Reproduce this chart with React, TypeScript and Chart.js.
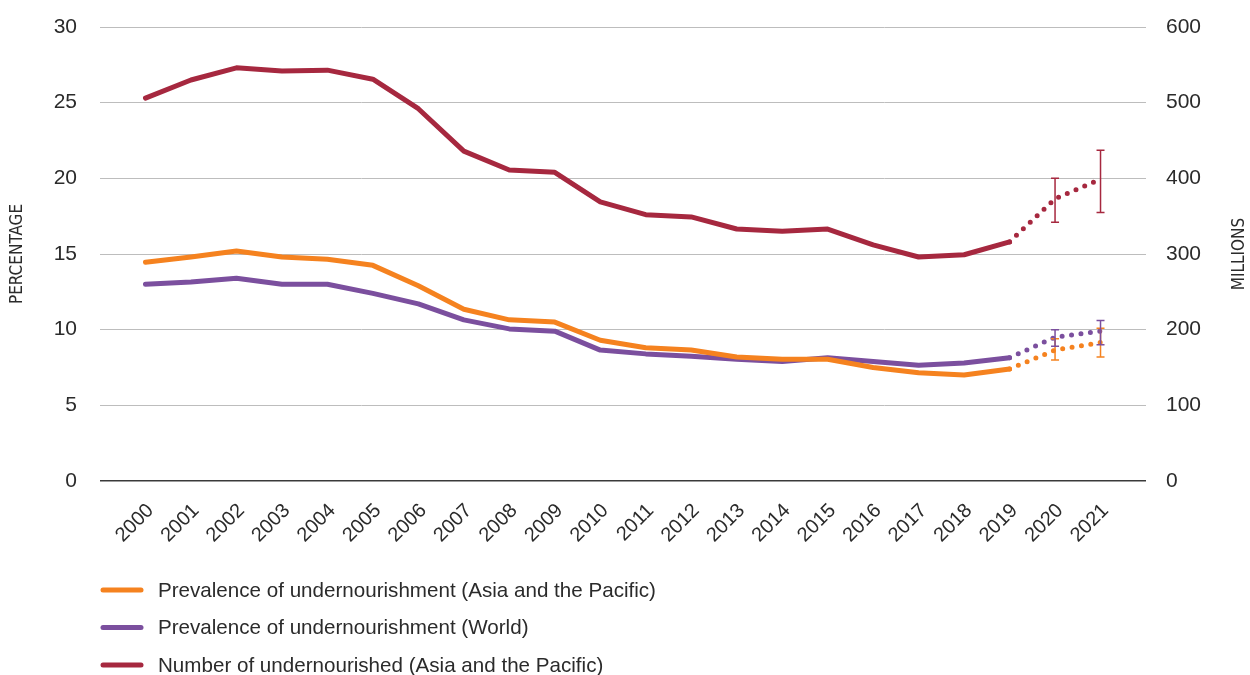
import React, { useEffect, useRef } from "react";
import { Chart, registerables } from "chart.js";

Chart.register(...registerables);

const years = ["2000","2001","2002","2003","2004","2005","2006","2007","2008","2009","2010","2011","2012","2013","2014","2015","2016","2017","2018","2019","2020","2021"];

const puAsia = [14.45,14.8,15.2,14.8,14.65,14.25,12.9,11.35,10.65,10.5,9.3,8.8,8.65,8.2,8.05,8.05,7.5,7.15,7.0,7.4,8.65,9.15];
const puWorld = [13.0,13.15,13.4,13.0,13.0,12.4,11.7,10.65,10.05,9.9,8.65,8.4,8.25,8.05,7.9,8.15,7.9,7.65,7.8,8.15,9.5,9.9];
const nuAsia = [506,530,546,542,543,531,492,436,411,408,369,352,349,333,330,333,312,296,299,316,373,399];

const puAsiaLow = [null,null,null,null,null,null,null,null,null,null,null,null,null,null,null,null,null,null,null,null,8.0,8.2];
const puAsiaHigh = [null,null,null,null,null,null,null,null,null,null,null,null,null,null,null,null,null,null,null,null,9.4,10.1];
const puWorldLow = [null,null,null,null,null,null,null,null,null,null,null,null,null,null,null,null,null,null,null,null,8.9,9.0];
const puWorldHigh = [null,null,null,null,null,null,null,null,null,null,null,null,null,null,null,null,null,null,null,null,10.0,10.6];
const nuAsiaLow = [null,null,null,null,null,null,null,null,null,null,null,null,null,null,null,null,null,null,null,null,342,355];
const nuAsiaHigh = [null,null,null,null,null,null,null,null,null,null,null,null,null,null,null,null,null,null,null,null,400,437];

const labels = [
  "Prevalence of undernourishment (Asia and the Pacific)",
  "Prevalence of undernourishment (World)",
  "Number of undernourished (Asia and the Pacific)",
];
const colors = ["#F5821F", "#7B4F9E", "#A6283F"];
const lows = [puAsiaLow, puWorldLow, nuAsiaLow];
const highs = [puAsiaHigh, puWorldHigh, nuAsiaHigh];

const FONT = "'Liberation Sans', Arial, sans-serif";
const NARROW = "'Liberation Sans Narrow', 'DejaVu Sans Condensed', sans-serif";
const TEXT = "#2b2b2b";

const extrasPlugin = {
  id: "extras",
  afterDatasetsDraw(chart: any) {
    const ctx = chart.ctx;
    chart.data.datasets.forEach((ds: any, di: number) => {
      const ys = chart.scales[ds.yAxisID];
      const xs = chart.scales.x;
      ctx.save();
      ctx.strokeStyle = colors[di];
      ctx.lineWidth = 1.5;
      lows[di].forEach((lo: any, i: number) => {
        const hi = highs[di][i];
        if (lo == null || hi == null) return;
        const x = xs.getPixelForValue(i);
        const y1 = ys.getPixelForValue(lo);
        const y2 = ys.getPixelForValue(hi);
        ctx.beginPath();
        ctx.moveTo(x, y1); ctx.lineTo(x, y2);
        ctx.moveTo(x - 4, y1); ctx.lineTo(x + 4, y1);
        ctx.moveTo(x - 4, y2); ctx.lineTo(x + 4, y2);
        ctx.stroke();
      });
      ctx.restore();
    });
  },
  afterDraw(chart: any) {
    const ctx = chart.ctx;
    const area = chart.chartArea;
    const cy = (area.top + area.bottom) / 2;
    ctx.save();
    ctx.fillStyle = TEXT;
    ctx.font = `17px ${NARROW}`;
    ctx.textAlign = "center";
    ctx.textBaseline = "middle";
    ctx.translate(18, cy);
    ctx.rotate(-Math.PI / 2);
    ctx.fillText("PERCENTAGE", 0, 0);
    ctx.restore();
    ctx.save();
    ctx.fillStyle = TEXT;
    ctx.font = `17px ${NARROW}`;
    ctx.textAlign = "center";
    ctx.textBaseline = "middle";
    ctx.translate(1240, cy);
    ctx.rotate(-Math.PI / 2);
    ctx.fillText("MILLIONS", 0, 0);
    ctx.restore();

    // legend
    ctx.save();
    ctx.font = `20.6px ${FONT}`;
    ctx.textBaseline = "middle";
    labels.forEach((lab, i) => {
      const y = 590 + i * 37.5;
      ctx.strokeStyle = colors[i];
      ctx.lineWidth = 5;
      ctx.lineCap = "round";
      ctx.beginPath();
      ctx.moveTo(103, y);
      ctx.lineTo(141, y);
      ctx.stroke();
      ctx.fillStyle = TEXT;
      ctx.fillText(lab, 158, y + 1);
    });
    ctx.restore();
  },
};

export default function App() {
  const ref = useRef<HTMLCanvasElement>(null);
  useEffect(() => {
    document.body.style.margin = "0";
    const mk = (vals: number[]) => vals.map((v, i) => ({ x: i, y: v }));
    const dotted = (ctx: any) => (ctx.p0DataIndex >= 19 ? [0, 9.5] : undefined);
    const chart = new Chart(ref.current!, {
      type: "line",
      data: {
        datasets: [
          { label: labels[0], data: mk(puAsia), yAxisID: "y", borderColor: colors[0] },
          { label: labels[1], data: mk(puWorld), yAxisID: "y", borderColor: colors[1] },
          { label: labels[2], data: mk(nuAsia), yAxisID: "y2", borderColor: colors[2] },
        ].map((d) => ({
          ...d,
          borderWidth: 5,
          pointRadius: 0,
          tension: 0,
          borderCapStyle: "round",
          borderJoinStyle: "round",
          segment: { borderDash: dotted },
        })) as any,
      },
      options: {
        animation: false,
        responsive: false,
        layout: { padding: { top: 27, left: 0, right: 0, bottom: 0 } },
        plugins: { legend: { display: false }, tooltip: { enabled: false } },
        scales: {
          x: {
            type: "linear",
            min: -1,
            max: 22,
            grid: { display: false },
            border: { display: false },
            afterFit: (s: any) => { s.height = 194; s.paddingLeft = 0; s.paddingRight = 0; },
            afterBuildTicks: (s: any) => { s.ticks = years.map((_, i) => ({ value: i })); },
            ticks: {
              autoSkip: false,
              minRotation: 45,
              maxRotation: 45,
              padding: 10,
              labelOffset: 5,
              color: TEXT,
              font: { family: FONT, size: 20 },
              callback: (v: any) => years[v] ?? "",
            },
          },
          y: {
            position: "left",
            min: 0,
            max: 30,
            afterFit: (s: any) => { s.width = 100; s.paddingTop = 0; s.paddingBottom = 0; },
            ticks: { stepSize: 5, padding: 23, color: TEXT, font: { family: FONT, size: 21 } },
            grid: {
              drawTicks: false,
              color: (c: any) => (c.tick && c.tick.value === 0 ? "#3a3a3a" : "#bdbdbd"),
              lineWidth: (c: any) => (c.tick && c.tick.value === 0 ? 1.5 : 1),
            },
            border: { display: false },
          },
          y2: {
            position: "right",
            min: 0,
            max: 600,
            afterFit: (s: any) => { s.width = 104; s.paddingTop = 0; s.paddingBottom = 0; },
            ticks: { stepSize: 100, padding: 20, color: TEXT, font: { family: FONT, size: 21 } },
            grid: { display: false, drawTicks: false },
            border: { display: false },
          },
        },
      },
      plugins: [extrasPlugin],
    });
    return () => chart.destroy();
  }, []);
  return <canvas ref={ref} width={1250} height={675} style={{ display: "block" }} />;
}
